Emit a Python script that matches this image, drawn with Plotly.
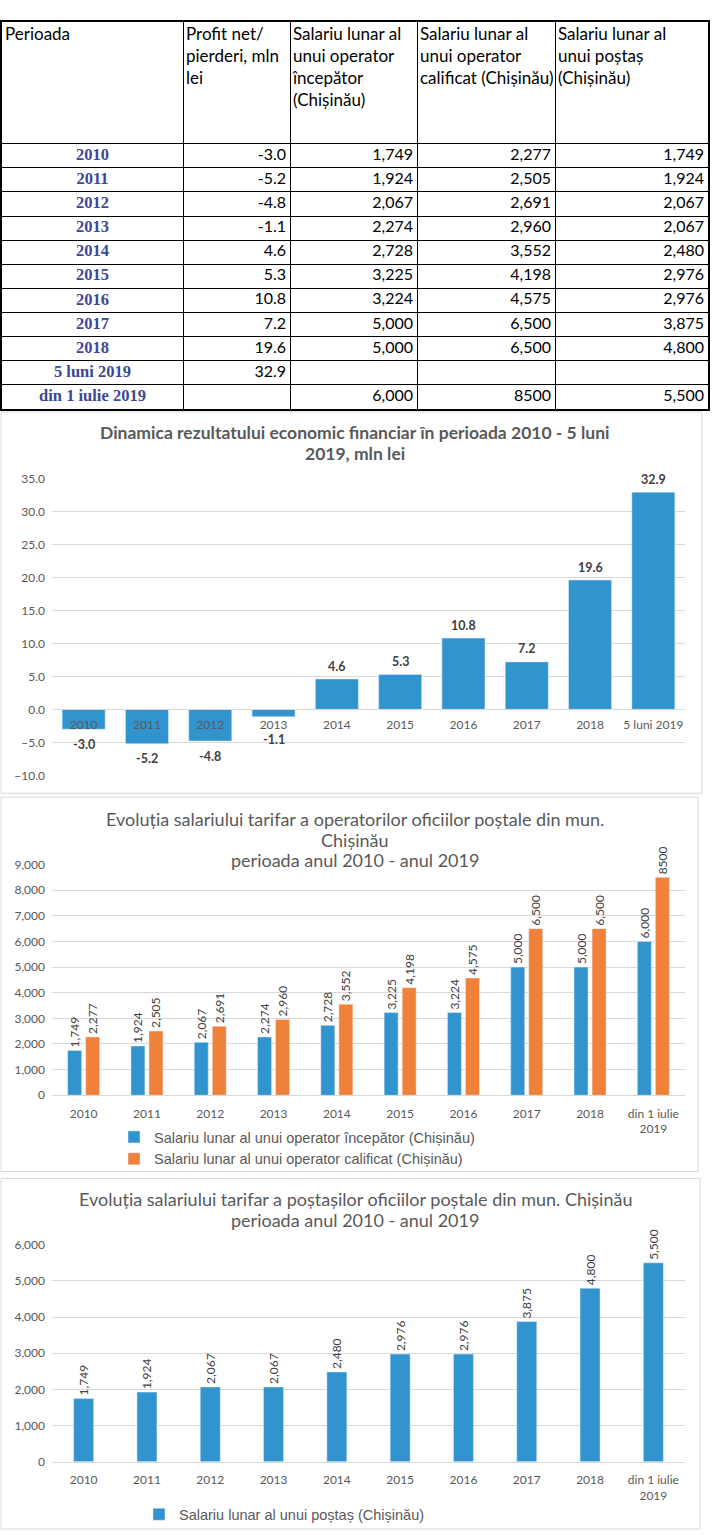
import plotly.graph_objects as go

W, H = 720, 1535

def px(x):
    return x / W

def py(y):
    return 1 - y / H

# ---------------- data ----------------
years = ["2010", "2011", "2012", "2013", "2014", "2015", "2016", "2017", "2018"]
profit_cats = years + ["5 luni 2019"]
salary_cats = years + ["din 1 iulie<br>2019"]
table_periods = years + ["5 luni 2019", "din 1 iulie 2019"]

profit = [-3.0, -5.2, -4.8, -1.1, 4.6, 5.3, 10.8, 7.2, 19.6, 32.9]
incepator = [1749, 1924, 2067, 2274, 2728, 3225, 3224, 5000, 5000, 6000]
calificat = [2277, 2505, 2691, 2960, 3552, 4198, 4575, 6500, 6500, 8500]
postas = [1749, 1924, 2067, 2067, 2480, 2976, 2976, 3875, 4800, 5500]

header_labels = [
    "Perioada",
    "Profit net/<br>pierderi, mln<br>lei",
    "Salariu lunar al<br>unui operator<br>începător<br>(Chișinău)",
    "Salariu lunar al<br>unui operator<br>calificat (Chișinău)",
    "Salariu lunar al<br>unui poștaș<br>(Chișinău)",
]

name_incep = "Salariu lunar al unui operator începător (Chișinău)"
name_calif = "Salariu lunar al unui operator calificat (Chișinău)"
name_postas = "Salariu lunar al unui poștaș (Chișinău)"

# label texts (the source shows 8500 without a thousands separator)
incep_txt = [f"{v:,}" for v in incepator]
calif_txt = [f"{v:,}" for v in calificat[:-1]] + [str(calificat[-1])]
postas_txt = [f"{v:,}" for v in postas]

BLUE = "#3194cf"
ORANGE = "#f0813a"
GRID = "#d9d9d9"
TXT = "#595959"
LBL = "#404040"
CAL = "Lato, 'Noto Sans', sans-serif"
ARIAL = "'Liberation Sans', Arial, sans-serif"
SERIF = "'Liberation Serif', serif"

fig = go.Figure()

# ---------------- table (own axes in pixel-like units) ----------------
TOP, HEAD_BOT, BOT = 14, 137, 405
col_edges = [2, 183, 290, 417, 555, 708]
n_rows = len(table_periods)
row_h = (BOT - HEAD_BOT) / n_rows
row_edges = [HEAD_BOT + row_h * i for i in range(n_rows + 1)]
row_mid = [HEAD_BOT + row_h * (i + 0.5) for i in range(n_rows)]

col_profit = [f"{v:.1f}" for v in profit] + [""]
col_incep = incep_txt[:-1] + ["", incep_txt[-1]]
col_calif = calif_txt[:-1] + ["", calif_txt[-1]]
col_postas = postas_txt[:-1] + ["", postas_txt[-1]]

tab = dict(xaxis="x4", yaxis="y4", mode="text", showlegend=False,
           hoverinfo="skip", cliponaxis=False)

fig.add_trace(go.Scatter(
    x=[e + 3 for e in col_edges[:-1]], y=[TOP + 5] * 5, text=header_labels,
    textposition="bottom right",
    textfont=dict(family=CAL, size=17, color="black"), **tab))

fig.add_trace(go.Scatter(
    x=[(col_edges[0] + col_edges[1]) / 2] * n_rows, y=row_mid,
    text=[f"<b>{p}</b>" for p in table_periods], textposition="middle center",
    textfont=dict(family=SERIF, size=16.5, color="#3d4796"), **tab))

for ci, col in enumerate([col_profit, col_incep, col_calif, col_postas], start=1):
    fig.add_trace(go.Scatter(
        x=[col_edges[ci + 1] - 4] * n_rows, y=row_mid, text=col,
        textposition="middle left",
        textfont=dict(family=CAL, size=16, color="black"), **tab))

# ---------------- chart 1 ----------------
fig.add_trace(go.Bar(
    x=profit_cats, y=profit, xaxis="x", yaxis="y",
    marker_color=BLUE, width=0.68, showlegend=False, hoverinfo="x+y",
))

# ---------------- chart 2 ----------------
fig.add_trace(go.Bar(
    x=salary_cats, y=incepator, xaxis="x2", yaxis="y2", name=name_incep,
    marker_color=BLUE, width=0.221, offset=-0.253,
    text=incep_txt, textposition="outside", textangle=-90,
    textfont=dict(family=CAL, size=12, color=LBL),
    constraintext="none", cliponaxis=False, legend="legend",
))
fig.add_trace(go.Bar(
    x=salary_cats, y=calificat, xaxis="x2", yaxis="y2", name=name_calif,
    marker_color=ORANGE, width=0.221, offset=0.032,
    text=calif_txt, textposition="outside", textangle=-90,
    textfont=dict(family=CAL, size=12, color=LBL),
    constraintext="none", cliponaxis=False, legend="legend",
))

# ---------------- chart 3 ----------------
fig.add_trace(go.Bar(
    x=salary_cats, y=postas, xaxis="x3", yaxis="y3", name=name_postas,
    marker_color=BLUE, width=0.316,
    text=postas_txt, textposition="outside", textangle=-90,
    textfont=dict(family=CAL, size=12, color=LBL),
    constraintext="none", cliponaxis=False, legend="legend2",
))

xdom = [px(52), px(685)]
xr = [-0.5, 9.5]
tickf = dict(family=CAL, size=12, color=TXT)
Y1_TOP, Y1_BOT, Y1_MIN, Y1_MAX = 475, 775, -10, 35

fig.update_layout(
    width=W, height=H,
    margin=dict(l=0, r=0, t=0, b=0),
    paper_bgcolor="white", plot_bgcolor="white",
    barmode="overlay",
    xaxis=dict(domain=xdom, anchor="free", position=py(708), type="category",
               range=xr, showline=True, linecolor=GRID, linewidth=1, showgrid=False,
               ticks="", tickfont=tickf, ticklabelstandoff=5),
    yaxis=dict(domain=[py(Y1_BOT), py(Y1_TOP)], range=[Y1_MIN, Y1_MAX], dtick=5,
               tickformat=".1f", gridcolor=GRID, zeroline=False, anchor="x",
               tickfont=tickf, ticks="", ticklabelstandoff=6),
    xaxis2=dict(domain=xdom, anchor="y2", type="category", range=xr,
                showline=True, linecolor=GRID, linewidth=1, showgrid=False,
                ticks="", tickfont=tickf, ticklabelstandoff=7),
    yaxis2=dict(domain=[py(1098), py(865)], range=[0, 9000], dtick=1000,
                tickformat=",", gridcolor=GRID, zeroline=False, anchor="x2",
                tickfont=tickf, ticks="", ticklabelstandoff=6),
    xaxis3=dict(domain=xdom, anchor="y3", type="category", range=xr,
                showline=True, linecolor=GRID, linewidth=1, showgrid=False,
                ticks="", tickfont=tickf, ticklabelstandoff=7),
    yaxis3=dict(domain=[py(1468), py(1249)], range=[0, 6000], dtick=1000,
                tickformat=",", gridcolor=GRID, zeroline=False, anchor="x3",
                tickfont=tickf, ticks="", ticklabelstandoff=6),
    xaxis4=dict(domain=[px(col_edges[0]), px(col_edges[-1])],
                range=[col_edges[0], col_edges[-1]], anchor="y4",
                tickvals=col_edges[1:-1], showticklabels=False, ticks="",
                showgrid=True, gridcolor="black", gridwidth=1, zeroline=False,
                showline=True, mirror=True, linecolor="black", linewidth=2),
    yaxis4=dict(domain=[py(BOT), py(TOP)], range=[BOT, TOP], anchor="x4",
                tickvals=row_edges[:-1], showticklabels=False, ticks="",
                showgrid=True, gridcolor="black", gridwidth=1, zeroline=False,
                showline=True, mirror=True, linecolor="black", linewidth=2),
    legend=dict(x=px(114), y=py(1124), xanchor="left", yanchor="top",
                orientation="v", font=dict(family=ARIAL, size=14.5, color=TXT),
                bgcolor="rgba(0,0,0,0)", itemwidth=30, tracegroupgap=0),
    legend2=dict(x=px(139), y=py(1505), xanchor="left", yanchor="top",
                 orientation="v", font=dict(family=ARIAL, size=14.5, color=TXT),
                 bgcolor="rgba(0,0,0,0)", itemwidth=30),
    showlegend=True,
)

# chart 1 value labels, anchored to the bars through the axes (x = category index)
ppu = (Y1_BOT - Y1_TOP) / (Y1_MAX - Y1_MIN)   # pixels per unit
for i, v in enumerate(profit):
    if v >= 0:
        shift = 13
    else:
        shift = -max(15, 30 - abs(v) * ppu)
    fig.add_annotation(x=i, y=v, xref="x", yref="y", text=f"<b>{v:.1f}</b>",
                       showarrow=False, yanchor="middle", yshift=shift,
                       font=dict(family=CAL, size=12.5, color=LBL))

# panel borders
shapes = [
    dict(type="rect", xref="paper", yref="paper", x0=px(1), x1=px(702),
         y0=py(793), y1=py(408), line=dict(color=GRID, width=1)),
    dict(type="rect", xref="paper", yref="paper", x0=px(1), x1=px(698),
         y0=py(1175), y1=py(797), line=dict(color=GRID, width=1)),
    dict(type="rect", xref="paper", yref="paper", x0=px(1), x1=px(700),
         y0=py(1536), y1=py(1182), line=dict(color=GRID, width=1)),
]
fig.update_layout(shapes=shapes)

# titles
def title(txt, y, size, bold=False):
    fig.add_annotation(x=px(355), y=py(y), xref="paper", yref="paper",
                       text=f"<b>{txt}</b>" if bold else txt, showarrow=False,
                       xanchor="center", yanchor="middle",
                       font=dict(family=CAL, size=size, color=TXT))

title("Dinamica rezultatului economic financiar în perioada 2010 - 5 luni", 429, 17.5, True)
title("2019, mln lei", 450, 17.5, True)
title("Evoluția salariului tarifar a operatorilor oficiilor poștale din mun.", 819, 18)
title("Chișinău", 840, 18)
title("perioada anul 2010 - anul 2019", 860, 18)
title("Evoluția salariului tarifar a poștașilor oficiilor poștale din mun. Chișinău", 1203, 18)
title("perioada anul 2010 - anul 2019", 1224, 18)

fig.write_html(
    "out.html",
    config={"displayModeBar": False},
    post_script="document.body.style.margin='0';document.body.style.padding='0';",
)
